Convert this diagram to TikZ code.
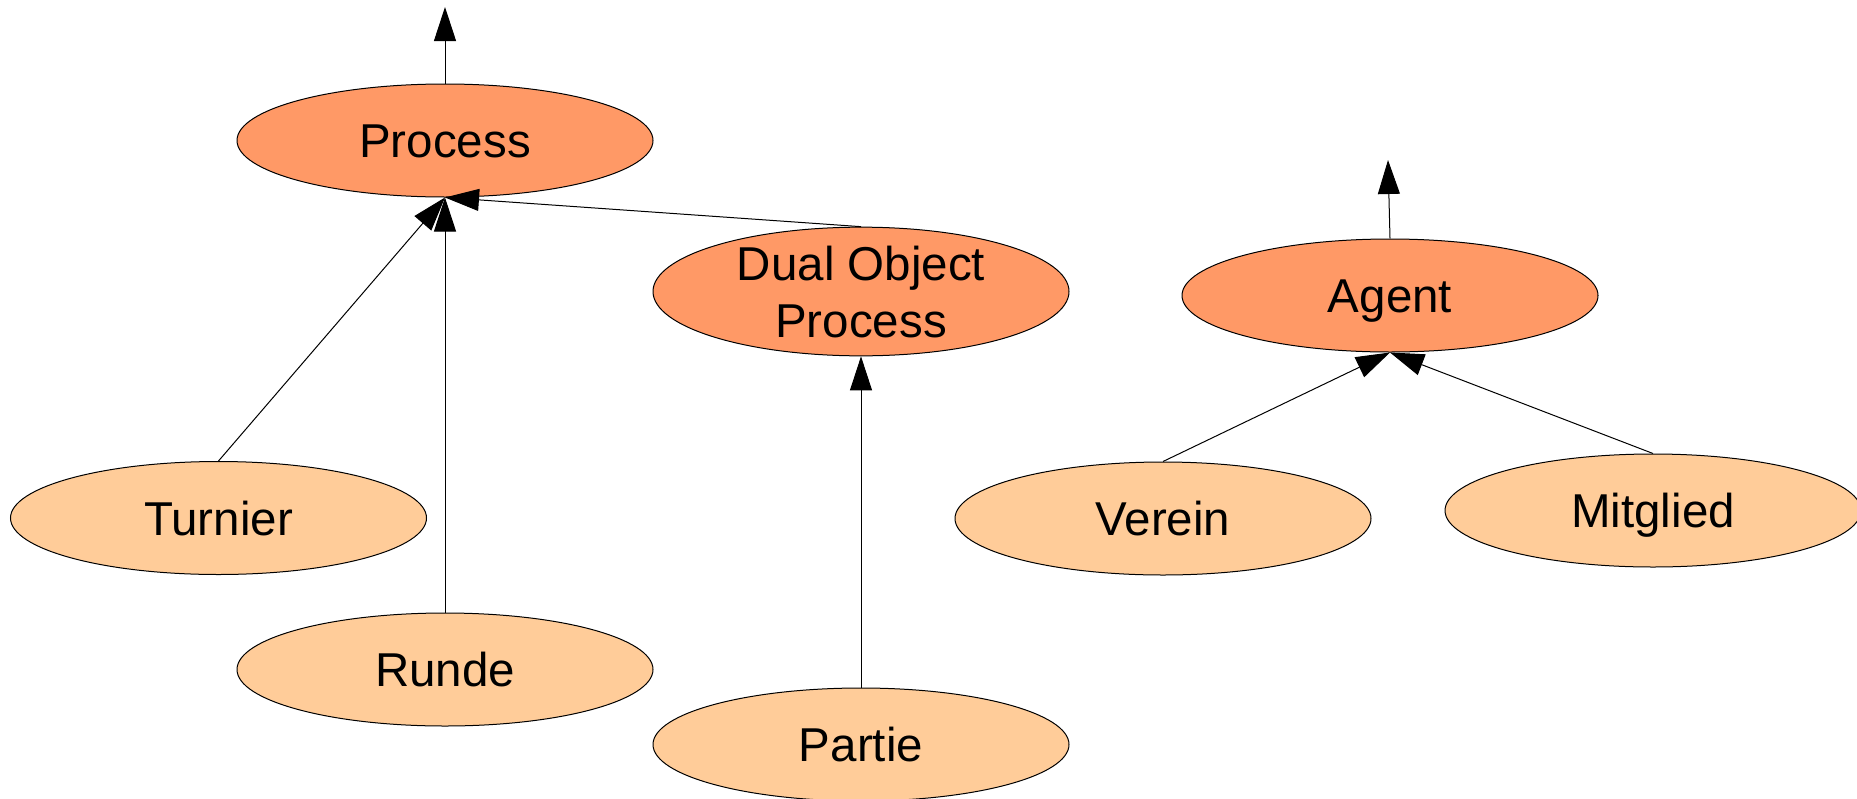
\documentclass[tikz,border=0pt]{standalone}
\usepackage{fontspec}
\setmainfont{Liberation Sans}
\usetikzlibrary{shapes.geometric,arrows.meta}
\definecolor{darkfill}{HTML}{FF9966}
\definecolor{lightfill}{HTML}{FFCC99}
\tikzset{
  cls/.style={ellipse, draw=black, line width=1pt, minimum width=416pt, minimum height=113pt,
    inner sep=0pt, align=center, text height=34pt, text depth=0pt,
    font=\fontsize{47.5}{57}\selectfont},
  upper/.style={cls, fill=darkfill},
  lower/.style={cls, fill=lightfill},
  isa/.style={draw=black, line width=1pt, -{Triangle[length=34pt,width=22pt]}}
}
\begin{document}
\begin{tikzpicture}[x=1pt,y=-1pt]
\useasboundingbox (0,0) rectangle (1857,798);
\node[upper] (process) at (445,140.5) {Process};
\node[upper, text height=91pt] (dual) at (861,291.5) {Dual Object\\Process};
\node[upper] (agent) at (1390,295.5) {Agent};
\node[lower] (turnier) at (218.5,518) {Turnier};
\node[lower] (runde) at (445,669.5) {Runde};
\node[lower] (partie) at (861,744.5) {Partie};
\node[lower] (verein) at (1163,518.5) {Verein};
\node[lower] (mitglied) at (1653,510.5) {Mitglied};
\coordinate (ptop) at (445,7);
\coordinate (atop) at (1388,160);
\draw[isa] (process.north) -- (ptop);
\draw[isa] (agent.north) -- (atop);
\draw[isa] (turnier.north) -- (process.south);
\draw[isa] (runde.north) -- (process.south);
\draw[isa] (dual.north) -- (process.south);
\draw[isa] (partie.north) -- (dual.south);
\draw[isa] (verein.north) -- (agent.south);
\draw[isa] (mitglied.north) -- (agent.south);
\end{tikzpicture}
\end{document}
